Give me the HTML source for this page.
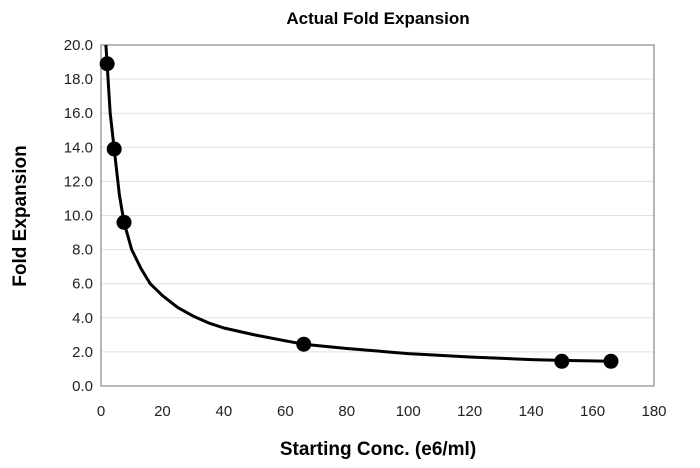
<!DOCTYPE html>
<html><head><meta charset="utf-8"><style>
body{margin:0;background:#fff;}
svg{display:block;font-family:"Liberation Sans",Arial,sans-serif;}
</style></head><body>
<svg id="chart" width="700" height="468">
<text x="378" y="24" text-anchor="middle" font-size="17" font-weight="bold">Actual Fold Expansion</text>
<text transform="translate(26,216) rotate(-90)" text-anchor="middle" font-size="19" font-weight="bold">Fold Expansion</text>
<text x="378" y="455" text-anchor="middle" font-size="19" font-weight="bold">Starting Conc. (e6/ml)</text>
<g id="grid"></g><g id="axes"></g><g id="marks"></g>
</svg>
<script>
const xTicks=[0,20,40,60,80,100,120,140,160,180];
const yTicks=[0,2,4,6,8,10,12,14,16,18,20];
const pointX=[2,4.3,7.5,66,150,166];
const pointY=[18.9,13.9,9.6,2.45,1.45,1.45];
const curveX=[1.6,2,3,4.3,6,7.5,10,13,16,20,25,30,35,40,50,60,66,80,100,120,140,150,166];
const curveY=[20,18.9,16,13.9,11.2,9.6,8.0,6.9,6.0,5.3,4.6,4.1,3.7,3.4,3.0,2.65,2.45,2.2,1.9,1.7,1.55,1.5,1.45];
const L=101,R=654,T=45,B=386;
const sx=v=>L+(v-0)/(180-0)*(R-L);
const sy=v=>B-(v-0)/(20-0)*(B-T);
const NS="http://www.w3.org/2000/svg";
const grid=document.getElementById('grid'),axes=document.getElementById('axes'),marks=document.getElementById('marks');
function mk(tag,attrs,parent){const e=document.createElementNS(NS,tag);for(const k in attrs)e.setAttribute(k,attrs[k]);parent.appendChild(e);return e;}
yTicks.forEach(t=>{
  if(t>0&&t<20){const g=mk('line',{x1:L,x2:R,y1:sy(t),y2:sy(t),stroke:'#e0e0e0','stroke-width':1},grid);
  
  }
  const tx=mk('text',{x:L-8,y:sy(t)+5,'text-anchor':'end','font-size':15,fill:'#222'},axes);
  tx.textContent=t.toFixed(1);
  
  
});
xTicks.forEach(t=>{
  const tx=mk('text',{x:sx(t),y:B+30,'text-anchor':'middle','font-size':15,fill:'#222'},axes);
  tx.textContent=t;
  
  
});
const frame=mk('rect',{x:L,y:T,width:R-L,height:B-T,fill:'none',stroke:'#888','stroke-width':1.2},axes);


const d=curveX.map((x,i)=>(i?'L':'M')+sx(x).toFixed(1)+','+sy(curveY[i]).toFixed(1)).join('');
const path=mk('path',{d:d,fill:'none',stroke:'#000','stroke-width':3,'stroke-linejoin':'round'},marks);


pointX.forEach((x,i)=>{
  const c=mk('circle',{cx:sx(x),cy:sy(pointY[i]),r:7.5,fill:'#000'},marks);
  
  
});
</script>
</body></html>
